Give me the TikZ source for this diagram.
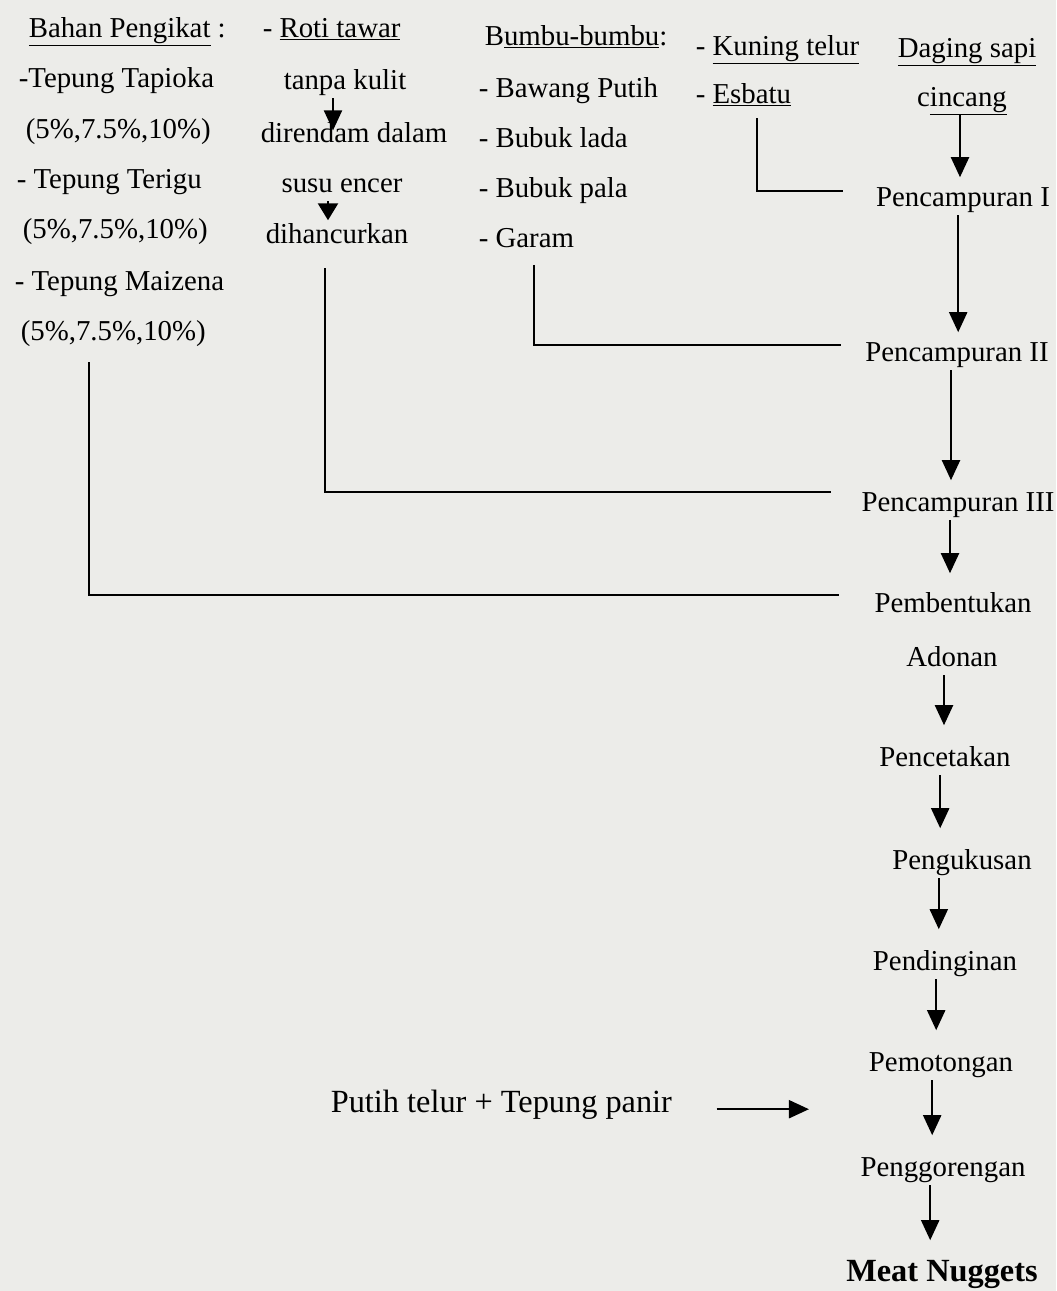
\documentclass[tikz,border=0pt]{standalone}
\usepackage{fontspec}
\setmainfont{Liberation Serif}
\usetikzlibrary{arrows.meta}
\definecolor{paper}{RGB}{236,236,233}

\begin{document}
\begin{tikzpicture}[x=0.025cm, y=-0.025cm,
    font=\fontsize{20.5}{24}\selectfont,
    txt/.style={inner sep=0.0625cm, text height=0.5cm, text depth=0.16cm},
    item/.style={txt, anchor=base west},
    stage/.style={txt, anchor=base},
    big/.style={font=\fontsize{23}{27}\selectfont},
    flow/.style={-{Triangle[width=0.45cm, length=0.5cm]}, line width=0.05cm, shorten >=0.45cm},
    feed/.style={line width=0.05cm}]
  \fill[paper] (0,0) rectangle (1056,1291);

  % binders
  \node[item] (binder)  at (26,37)  {\underline{Bahan Pengikat} :};
  \node[item] (tapioka) at (16,87)  {-Tepung Tapioka};
  \node[item] (tapPct)  at (23,138) {(5\%,7.5\%,10\%)};
  \node[item] (terigu)  at (14,188) {- Tepung Terigu};
  \node[item] (terPct)  at (20,238) {(5\%,7.5\%,10\%)};
  \node[item] (maizena) at (12,290) {- Tepung Maizena};
  \node[item] (maizPct) at (18,340) {(5\%,7.5\%,10\%)};

  % bread
  \node[item]  (roti)   at (260,37) {- \underline{Roti tawar}};
  \node[stage] (kulit)  at (345,89)  {tanpa kulit};
  \node[stage] (rendam) at (354,142) {direndam dalam};
  \node[stage] (encer)  at (342,192) {susu encer};
  \node[stage] (hancur) at (337,243) {dihancurkan};

  % spices
  \node[item] (bumbu)  at (482,45)  {B\underline{umbu-bumbu}:};
  \node[item] (bawang) at (476,97)  {- Bawang Putih};
  \node[item] (lada)   at (476,147) {- Bubuk lada};
  \node[item] (pala)   at (476,197) {- Bubuk pala};
  \node[item] (garam)  at (476,247) {- Garam};

  % egg yolk, ice
  \node[item] (kuning) at (693,55)  {- \underline{Kuning telur}};
  \node[item] (esbatu) at (693,103) {- \underline{Esbatu}};

  % main line
  \node[stage] (daging)  at (967,57)   {\underline{Daging sapi}};
  \node[stage] (cincang) at (962,106)  {c\underline{incang}};
  \node[stage] (mixA)    at (963,206)  {Pencampuran I};
  \node[stage] (mixB)    at (957,361)  {Pencampuran II};
  \node[stage] (mixC)    at (958,511)  {Pencampuran III};
  \node[stage] (form)    at (953,612)  {Pembentukan};
  \node[stage] (adonan)  at (952,666)  {Adonan};
  \node[stage] (mold)    at (945,766)  {Pencetakan};
  \node[stage] (steam)   at (962,869)  {Pengukusan};
  \node[stage] (cool)    at (945,970)  {Pendinginan};
  \node[stage] (cut)     at (941,1071) {Pemotongan};
  \node[stage] (fry)     at (943,1176) {Penggorengan};
  \node[stage, big] (nugget) at (942,1281) {\textbf{Meat Nuggets}};

  \node[item, big] (coat) at (328,1112) {Putih telur + Tepung panir};

  % bread steps
  \draw[flow, shorten >=0.12cm] ([xshift=-0.3cm]kulit.south) -- ([xshift=-0.3cm]kulit.south |- rendam.center);
  \draw[-{Triangle[width=0.5cm, length=0.42cm]}, line width=0.05cm] ([xshift=-0.35cm]encer.south) -- ([xshift=-0.35cm]encer.south |- hancur.north);

  % feeds into the mixing steps
  \draw[feed, shorten <=0.15cm, shorten >=0.75cm] ([xshift=0.35cm]esbatu.south) |- ([yshift=0.2cm]mixA.west);
  \draw[feed, shorten <=0.22cm, shorten >=0.55cm] ([xshift=0.18cm]garam.south) |- ([yshift=0.22cm]mixB.west);
  \draw[feed, shorten <=0.4cm, shorten >=0.7cm] ([xshift=-0.3cm]hancur.south) |- ([yshift=0.3cm]mixC.west);
  \draw[feed, shorten <=0.33cm, shorten >=0.82cm] ([xshift=-0.6cm]maizPct.south) |- ([yshift=0.25cm]form.west);

  % process line
  \draw[flow, shorten >=0.15cm] ([xshift=-0.05cm]cincang.south) -- ([xshift=-0.05cm]cincang.south |- mixA.north);
  \draw[flow, shorten >=0.15cm] ([xshift=-0.12cm]mixA.south) -- ([xshift=-0.12cm]mixA.south |- mixB.north);
  \draw[flow, shorten >=0.2cm] ([xshift=-0.15cm]mixB.south) -- ([xshift=-0.15cm]mixB.south |- mixC.north);
  \draw[flow, shorten >=0.4cm] ([xshift=-0.2cm]mixC.south) -- ([xshift=-0.2cm]mixC.south |- form.north);
  \draw[flow] ([xshift=-0.2cm]adonan.south) -- ([xshift=-0.2cm]adonan.south |- mold.north);
  \draw[flow] ([xshift=-0.12cm]mold.south) -- ([xshift=-0.12cm]mold.south |- steam.north);
  \draw[flow] ([xshift=-0.58cm]steam.south) -- ([xshift=-0.58cm]steam.south |- cool.north);
  \draw[flow] ([xshift=-0.22cm]cool.south) -- ([xshift=-0.22cm]cool.south |- cut.north);
  \draw[flow] ([xshift=-0.22cm]cut.south) -- ([xshift=-0.22cm]cut.south |- fry.north);
  \draw[flow] ([xshift=-0.32cm]fry.south) -- ([xshift=-0.32cm]fry.south |- nugget.north);

  % coating
  \draw[flow, shorten <=1.05cm, shorten >=1.22cm] ([yshift=-0.1cm]coat.east) -- ([yshift=-0.1cm]coat.east -| fry.west);
\end{tikzpicture}
\end{document}
